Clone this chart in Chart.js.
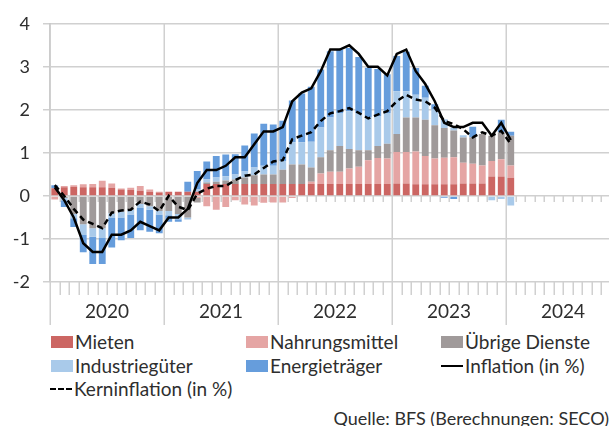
<!DOCTYPE html>
<html>
<head>
<meta charset="utf-8">
<script src="https://cdn.jsdelivr.net/npm/chart.js@4/dist/chart.umd.min.js"></script>
<style>
  html, body { margin: 0; padding: 0; width: 609px; height: 426px; overflow: hidden; background: #fff; }
  body { position: relative; font-family: Lato, "Open Sans", sans-serif; color: #2e2e2e; }
  #wrap { position: absolute; left: 0; top: 0; width: 640px; height: 330px; }
  .lg { position: absolute; display: flex; align-items: center; font-size: 19px; line-height: 22px; white-space: nowrap; }
  .sw { display: inline-block; width: 22px; height: 12px; margin-right: 2px; }
  .ln { display: inline-block; width: 22px; height: 0; border-top: 2.5px solid #000; margin-right: 2px; }
  .ln.dash { border-top: 2.5px dashed #000; }
  #src { position: absolute; right: 0; top: 407px; font-size: 18px; line-height: 22px; white-space: nowrap; }
</style>
</head>
<body>
<div id="wrap"><canvas id="c" width="640" height="330"></canvas></div>

<div class="lg" style="left:51px;top:331px"><span class="sw" style="background:#CC6663"></span>Mieten</div>
<div class="lg" style="left:246px;top:331px"><span class="sw" style="background:#E5A5A4"></span>Nahrungsmittel</div>
<div class="lg" style="left:441px;top:331px"><span class="sw" style="background:#A09A9A"></span>Übrige Dienste</div>
<div class="lg" style="left:51px;top:355px"><span class="sw" style="background:#A9CAEA"></span>Industriegüter</div>
<div class="lg" style="left:246px;top:355px"><span class="sw" style="background:#669DDC"></span>Energieträger</div>
<div class="lg" style="left:441px;top:355px"><span class="ln"></span>Inflation (in %)</div>
<div class="lg" style="left:50px;top:378px"><span class="ln dash"></span>Kerninflation (in %)</div>
<div id="src">Quelle: BFS (Berechnungen: SECO)</div>

<script>
// Monthly slots Jan 2020 – Dec 2024; data runs to Jan 2024
const years = ['2020', '2021', '2022', '2023', '2024'];
const months = [];
years.forEach(y => { for (let m = 1; m <= 12; m++) months.push(y + '-' + String(m).padStart(2, '0')); });

// Contributions to CPI inflation (percentage points)
const mieten = [
  0.18, 0.2, 0.21, 0.2, 0.2, 0.2, 0.19, 0.15, 0.14, 0.12, 0.1, 0.08,
  0.1, 0.1, 0.1, 0.1, 0.28, 0.28, 0.28, 0.28, 0.28, 0.28, 0.28, 0.28,
  0.28, 0.28, 0.28, 0.28, 0.28, 0.28, 0.28, 0.28, 0.28, 0.28, 0.28, 0.28,
  0.29, 0.29, 0.27, 0.27, 0.27, 0.27, 0.27, 0.29, 0.29, 0.29, 0.45, 0.45,
  0.42
];
const nahrungsmittel = [
  -0.08, 0.03, 0.04, 0.07, 0.08, 0.15, 0.1, 0.02, 0.05, 0.11, 0.05, 0.02,
  0, 0, 0, -0.05, -0.24, -0.32, -0.26, -0.1, -0.2, -0.22, -0.16, -0.15,
  -0.15, -0.05, 0, 0.05, 0.24, 0.28, 0.28, 0.36, 0.4, 0.55, 0.6, 0.59,
  0.73, 0.73, 0.76, 0.66, 0.6, 0.62, 0.63, 0.48, 0.46, 0.42, 0.36, 0.4,
  0.29
];
const uebrigeDienste = [
  0, -0.05, -0.42, -0.66, -0.75, -0.75, -0.4, -0.36, -0.32, -0.19, -0.24, -0.35,
  -0.35, -0.42, -0.5, -0.1, 0.03, 0.05, 0.08, 0.1, 0.15, 0.2, 0.22, 0.22,
  0.33, 0.45, 0.45, 0.33, 0.38, 0.5, 0.6, 0.45, 0.38, 0.23, 0.28, 0.34,
  0.42, 0.8, 0.79, 0.84, 0.77, 0.69, 0.62, 0.59, 0.61, 0.73, 0.59, 0.63,
  0.69
];
const industriegueter = [
  0, -0.05, -0.1, -0.25, -0.2, -0.23, -0.11, -0.14, -0.11, -0.09, -0.08, -0.08,
  -0.1, -0.12, -0.05, 0.06, 0.08, 0.1, 0.1, 0.12, 0.14, 0.18, 0.2, 0.2,
  0.2, 0.52, 0.52, 0.6, 0.69, 0.76, 0.77, 0.88, 0.87, 0.76, 0.7, 0.72,
  0.99, 0.61, 0.53, 0.51, 0.37, 0.2, 0.07, 0.05, 0, 0, -0.1, -0.07,
  -0.22
];
const energietraeger = [
  0.07, -0.16, -0.2, -0.4, -0.63, -0.6, -0.69, -0.53, -0.55, -0.52, -0.51, -0.44,
  -0.15, -0.06, 0.23, 0.42, 0.41, 0.5, 0.5, 0.47, 0.6, 0.79, 0.98, 0.96,
  0.94, 0.97, 1.13, 1.28, 1.35, 1.54, 1.47, 1.47, 1.3, 1.16, 1.09, 0.9,
  0.82, 0.92, 0.62, 0.28, 0.12, -0.04, -0.07, 0, 0.25, 0, 0, 0.29,
  0.09
];
// Year-on-year rates (%)
const inflation = [
  0.2, -0.1, -0.5, -1.1, -1.3, -1.3, -0.9, -0.9, -0.8, -0.6, -0.7, -0.8,
  -0.5, -0.5, -0.3, 0.3, 0.6, 0.6, 0.7, 0.9, 0.9, 1.2, 1.5, 1.5,
  1.6, 2.2, 2.4, 2.5, 2.9, 3.4, 3.4, 3.5, 3.3, 3.0, 3.0, 2.8,
  3.3, 3.4, 2.9, 2.6, 2.2, 1.7, 1.6, 1.6, 1.7, 1.7, 1.4, 1.7,
  1.3
];
const kerninflation = [
  0.25, 0.0, -0.3, -0.55, -0.65, -0.75, -0.39, -0.34, -0.32, -0.13, -0.2, -0.35,
  0.0, -0.25, -0.33, 0.05, 0.17, 0.23, 0.23, 0.37, 0.47, 0.5, 0.65, 0.8,
  0.83, 1.32, 1.4, 1.48, 1.74, 1.92, 1.97, 2.04, 1.93, 1.8, 1.89, 1.97,
  2.2, 2.35, 2.24, 2.2, 2.05, 1.74, 1.67, 1.55, 1.36, 1.48, 1.4, 1.51,
  1.21
];
const yTicks = [-2, -1, 0, 1, 2, 3, 4];

const FONT = 'Lato, "Open Sans", sans-serif';
const TEXT = '#2e2e2e';
const GRID = '#d0d0d0';

const bar = (label, data, color) => ({
  type: 'bar', label, data, backgroundColor: color, borderWidth: 0,
  stack: 'beitraege', order: 2, barPercentage: 0.72, categoryPercentage: 1
});
const line = (label, data, dash, stack) => ({
  type: 'line', label, data, borderColor: '#000', borderWidth: 2.5, borderDash: dash,
  pointRadius: 0, tension: 0, fill: false, stack, order: 1
});

// month boundaries, year separators, axis ticks and year captions
const frame = {
  id: 'frame',
  beforeDatasetsDraw(chart) {
    const { ctx, chartArea: a, scales: { x, y } } = chart;
    const n = months.length;
    const step = x.getPixelForValue(1) - x.getPixelForValue(0);
    const edge = i => x.getPixelForValue(0) - step / 2 + i * step;
    const y0 = y.getPixelForValue(0);
    ctx.save();
    ctx.strokeStyle = GRID;
    ctx.lineWidth = 1.5;
    for (let i = 0; i <= n; i++) {
      const px = Math.round(edge(i)) + 0.25;
      ctx.beginPath();
      if (i % 12 === 0) {
        ctx.moveTo(px, a.top); ctx.lineTo(px, a.bottom + 43);
      } else {
        ctx.moveTo(px, y0); ctx.lineTo(px, y0 + 6);
        ctx.moveTo(px, a.bottom); ctx.lineTo(px, a.bottom + 13);
      }
      ctx.stroke();
    }
    ctx.restore();
  },
  afterDraw(chart) {
    const { ctx, chartArea: a, scales: { x } } = chart;
    const step = x.getPixelForValue(1) - x.getPixelForValue(0);
    const edge = i => x.getPixelForValue(0) - step / 2 + i * step;
    ctx.save();
    ctx.fillStyle = TEXT;
    ctx.font = '19px ' + FONT;
    ctx.textAlign = 'center';
    ctx.textBaseline = 'middle';
    years.forEach((yr, k) => {
      ctx.fillText(yr, (edge(12 * k) + edge(12 * k + 12)) / 2, a.bottom + 30);
    });
    ctx.restore();
  }
};

new Chart(document.getElementById('c'), {
  data: {
    labels: months,
    datasets: [
      bar('Mieten', mieten, '#CC6663'),
      bar('Nahrungsmittel', nahrungsmittel, '#E5A5A4'),
      bar('Übrige Dienste', uebrigeDienste, '#A09A9A'),
      bar('Industriegüter', industriegueter, '#A9CAEA'),
      bar('Energieträger', energietraeger, '#669DDC'),
      line('Inflation (in %)', inflation, [], 'inf'),
      line('Kerninflation (in %)', kerninflation, [6, 4], 'kern')
    ]
  },
  options: {
    responsive: false,
    devicePixelRatio: 1,
    animation: false,
    layout: { padding: { top: 20, right: 20, left: 0, bottom: 0 } },
    plugins: { legend: { display: false }, tooltip: { enabled: false } },
    scales: {
      x: {
        type: 'category', stacked: true, offset: true,
        ticks: { display: false },
        grid: { display: false },
        border: { display: false },
        afterFit: s => { s.height = 48; }
      },
      y: {
        stacked: true, min: -2, max: 4,
        afterBuildTicks: s => { s.ticks = yTicks.map(v => ({ value: v })); },
        ticks: { color: TEXT, font: { family: FONT, size: 18 }, padding: 13 },
        grid: { color: GRID, lineWidth: 1.5, tickLength: 7 },
        border: { display: true, color: '#c8c8c8', width: 2 },
        afterFit: s => { s.width = 50; }
      }
    }
  },
  plugins: [frame]
});
</script>
</body>
</html>
